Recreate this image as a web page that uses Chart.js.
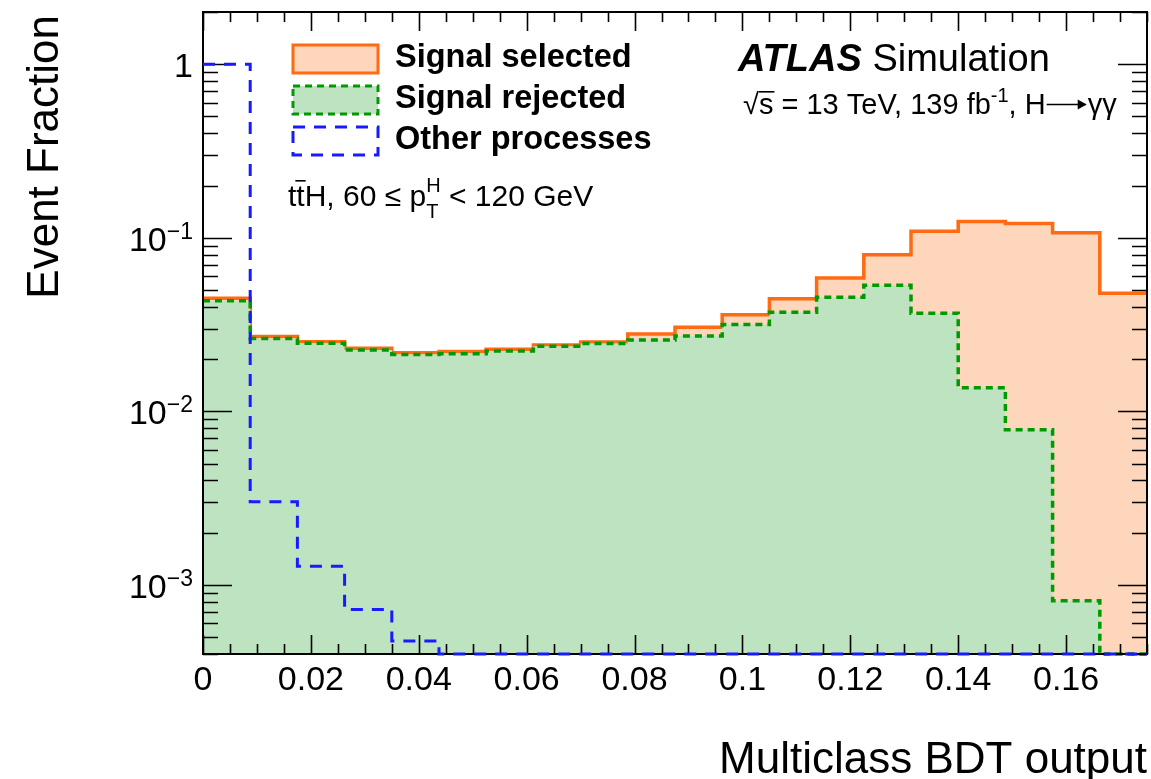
<!DOCTYPE html>
<html lang="en">
<head>
    <meta charset="UTF-8">
    <title>Multiclass BDT output</title>
    <style>
        html, body { margin: 0; padding: 0; background: #fff; }
        #wrap { width: 1151px; height: 779px; position: relative; }
    </style>
</head>
<body>

<div id="wrap">
    <canvas id="chartContainer"></canvas>
</div>

<script src="https://cdn.jsdelivr.net/npm/chart.js"></script>
<script>
// Hranice binu (Multiclass BDT output)
const binEdges = [0, 0.00875, 0.0175, 0.02625, 0.035, 0.04375, 0.0525, 0.06125, 0.07, 0.07875,
    0.0875, 0.09625, 0.105, 0.11375, 0.1225, 0.13125, 0.14, 0.14875, 0.1575, 0.16625, 0.175];

// Event fraction v kazdem binu
const signalSelected = [0.0448, 0.0270, 0.0252, 0.0231, 0.0218, 0.0221, 0.0228, 0.0241, 0.0251, 0.0279,
    0.0305, 0.0360, 0.0446, 0.0587, 0.0798, 0.109, 0.124, 0.121, 0.107, 0.0479];
const signalRejected = [0.0434, 0.0263, 0.0247, 0.0226, 0.0213, 0.0215, 0.0223, 0.0237, 0.0246, 0.0258,
    0.0272, 0.0317, 0.0372, 0.0454, 0.0533, 0.0368, 0.0137, 0.00783, 0.00081, 0];
const otherProcesses = [1.0, 0.00301, 0.00128, 0.000723, 0.000476, 0, 0, 0, 0, 0,
    0, 0, 0, 0, 0, 0, 0, 0, 0, 0];

const xTickValues = [0, 0.02, 0.04, 0.06, 0.08, 0.1, 0.12, 0.14, 0.16];
const xTickLabels = ['0', '0.02', '0.04', '0.06', '0.08', '0.1', '0.12', '0.14', '0.16'];
const yTickValues = [1, 0.1, 0.01, 0.001];
const yTickLabels = ['1', '10^\u22121', '10^\u22122', '10^\u22123'];

const X_MIN = 0, X_MAX = 0.175;
const Y_MIN = 4e-4, Y_MAX = 2;
const FONT = '"Liberation Sans", Arial, Helvetica, sans-serif';

// prazdne biny kreslime na spodni okraj jako ROOT
function toSteps(values) {
    const pts = values.map((v, i) => ({x: binEdges[i], y: v > 0 ? v : Y_MIN}));
    pts.push({x: binEdges[binEdges.length - 1], y: pts[pts.length - 1].y});
    return pts;
}

function font(size, weight, style) {
    return (style || '') + ' ' + (weight || 'normal') + ' ' + size + 'px ' + FONT;
}

// text s hornimi/dolnimi indexy: parts = [{t, size, weight, style, dy, bar, arrow}]
function drawRich(ctx, parts, x, y, align) {
    let total = 0;
    parts.forEach(p => {
        ctx.font = font(p.size, p.weight, p.style);
        p.mw = p.arrow ? p.arrow : ctx.measureText(p.t).width;
        p.w = p.adv !== undefined ? p.adv : p.mw;
        total += p.w;
    });
    let cx = align === 'right' ? x - total : x;
    ctx.textAlign = 'left';
    ctx.textBaseline = 'alphabetic';
    parts.forEach(p => {
        ctx.font = font(p.size, p.weight, p.style);
        if (p.arrow) {
            // dlouha sipka H -> yy
            const ay = y - p.size * 0.33;
            ctx.save();
            ctx.strokeStyle = ctx.fillStyle;
            ctx.lineWidth = 1.6;
            ctx.beginPath();
            ctx.moveTo(cx + 1, ay); ctx.lineTo(cx + p.arrow - 2, ay);
            ctx.stroke();
            ctx.beginPath();
            ctx.moveTo(cx + p.arrow - 1, ay);
            ctx.lineTo(cx + p.arrow - 10, ay - 5);
            ctx.lineTo(cx + p.arrow - 10, ay + 5);
            ctx.closePath();
            ctx.fill();
            ctx.restore();
        } else {
            ctx.fillText(p.t, cx, y + (p.dy || 0));
        }
        if (p.bar) {
            ctx.fillRect(cx + p.bar[0], y + p.bar[1], p.mw + p.bar[2], 1.6);
        }
        cx += p.w;
    });
}

const atlasDecor = {
    id: 'atlasDecor',
    afterDatasetDraw(chart, args) {
        if (args.index !== 1) return;
        const ctx = chart.ctx;
        const a = chart.chartArea;
        const xs = chart.scales.x, ys = chart.scales.y;
        ctx.save();
        ctx.strokeStyle = '#000';
        ctx.lineWidth = 1.6;
        ctx.beginPath();
        // x ticks, dole i nahore
        for (let v = 0; v <= X_MAX + 1e-9; v += 0.005) {
            const major = Math.abs(v / 0.02 - Math.round(v / 0.02)) < 1e-6;
            const len = major ? 19 : 10;
            const px = Math.round(xs.getPixelForValue(v)) + 0.5;
            ctx.moveTo(px, a.bottom); ctx.lineTo(px, a.bottom - len);
            ctx.moveTo(px, a.top); ctx.lineTo(px, a.top + len);
        }
        // y ticks, vlevo i vpravo
        for (let e = -4; e <= 0; e++) {
            for (let m = 1; m <= 9; m++) {
                const v = m * Math.pow(10, e);
                if (v < Y_MIN || v > Y_MAX) continue;
                const len = m === 1 ? 29 : 15;
                const py = Math.round(ys.getPixelForValue(v)) + 0.5;
                ctx.moveTo(a.left, py); ctx.lineTo(a.left + len, py);
                ctx.moveTo(a.right, py); ctx.lineTo(a.right - len, py);
            }
        }
        ctx.stroke();
        ctx.lineWidth = 2;
        ctx.strokeRect(a.left, a.top, a.right - a.left, a.bottom - a.top);
        ctx.restore();
    },
    afterDraw(chart) {
        const ctx = chart.ctx;
        const a = chart.chartArea;
        const xs = chart.scales.x, ys = chart.scales.y;
        ctx.save();
        ctx.fillStyle = '#000';

        // popisky osy x
        ctx.font = font(34);
        ctx.textAlign = 'center';
        ctx.textBaseline = 'alphabetic';
        xTickValues.forEach((v, i) => {
            ctx.fillText(xTickLabels[i], xs.getPixelForValue(v), 690);
        });

        // popisky osy y (10^n)
        yTickValues.forEach((v, i) => {
            const py = ys.getPixelForValue(v) + 13;
            const parts = yTickLabels[i].split('^');
            if (parts.length === 1) {
                drawRich(ctx, [{t: parts[0], size: 34}], 193, py, 'right');
            } else {
                drawRich(ctx, [{t: parts[0], size: 34}, {t: parts[1], size: 23, dy: -12}], 193, py, 'right');
            }
        });

        // nazvy os
        ctx.font = font(44);
        ctx.textAlign = 'right';
        ctx.fillText('Multiclass BDT output', a.right, 773);
        ctx.save();
        ctx.translate(58, a.top + 3);
        ctx.rotate(-Math.PI / 2);
        ctx.textAlign = 'right';
        ctx.fillText('Event Fraction', 0, 0);
        ctx.restore();

        // legenda
        const boxX = 293, boxW = 85, boxH = 28;
        const legend = [
            {label: 'Signal selected', fill: '#fdd6bb', stroke: '#ff6a13', dash: [], y: 45},
            {label: 'Signal rejected', fill: '#bee3c0', stroke: '#009a00', dash: [7, 5], y: 86},
            {label: 'Other processes', fill: null, stroke: '#1a1aff', dash: [12, 9], y: 127}
        ];
        legend.forEach(l => {
            if (l.fill) {
                ctx.fillStyle = l.fill;
                ctx.fillRect(boxX, l.y, boxW, boxH);
            }
            ctx.strokeStyle = l.stroke;
            ctx.lineWidth = 3;
            ctx.setLineDash(l.dash);
            ctx.strokeRect(boxX, l.y, boxW, boxH);
            ctx.setLineDash([]);
            ctx.fillStyle = '#000';
            ctx.font = font(32.5, 'bold');
            ctx.textAlign = 'left';
            ctx.fillText(l.label, 395, l.y + 22);
        });

        // ttH, 60 <= pT < 120 GeV
        ctx.fillStyle = '#000';
        drawRich(ctx, [
            {t: 't', size: 30},
            {t: 't', size: 30, bar: [-1, -26, 2]},
            {t: 'H, 60 \u2264 p', size: 30},
            {t: 'T', size: 20, dy: 12, adv: 0},
            {t: 'H', size: 20, dy: -14},
            {t: ' < 120 GeV', size: 30}
        ], 288, 206, 'left');

        // ATLAS Simulation
        drawRich(ctx, [
            {t: 'ATLAS', size: 38, weight: 'bold', style: 'italic'},
            {t: ' Simulation', size: 38}
        ], 738, 71, 'left');
        drawRich(ctx, [
            {t: '\u221A', size: 29},
            {t: 's', size: 29, bar: [0, -23, 1]},
            {t: ' = 13 TeV, 139 fb', size: 29},
            {t: '-1', size: 20, dy: -12},
            {t: ', H', size: 29},
            {t: '', size: 29, arrow: 42},
            {t: '\u03B3\u03B3', size: 29}
        ], 743, 114, 'left');

        ctx.restore();
    }
};

function drawChart() {
    const ctx = document.getElementById('chartContainer');
    window.myChart = new Chart(ctx, {
        type: 'line',
        data: {
            datasets: [{
                label: 'Other processes',
                data: toSteps(otherProcesses),
                fill: false,
                borderColor: '#1a1aff',
                borderWidth: 3,
                borderDash: [12, 9],
                pointRadius: 0,
                stepped: true,
                clip: false
            }, {
                label: 'Signal rejected',
                data: toSteps(signalRejected),
                fill: 'start',
                backgroundColor: '#bee3c0',
                borderColor: '#009a00',
                borderWidth: 3.5,
                borderDash: [7, 5],
                pointRadius: 0,
                stepped: true,
                clip: false
            }, {
                label: 'Signal selected',
                data: toSteps(signalSelected),
                fill: 'start',
                backgroundColor: '#fdd6bb',
                borderColor: '#ff6a13',
                borderWidth: 3.5,
                pointRadius: 0,
                stepped: true
            }]
        },
        options: {
            responsive: true,
            maintainAspectRatio: false,
            animation: false,
            layout: {
                padding: {left: 203, right: 4, top: 12, bottom: 125}
            },
            scales: {
                x: {
                    type: 'linear',
                    min: X_MIN,
                    max: X_MAX,
                    display: false
                },
                y: {
                    type: 'logarithmic',
                    min: Y_MIN,
                    max: Y_MAX,
                    display: false
                }
            },
            plugins: {
                legend: { display: false },
                tooltip: { enabled: false }
            }
        },
        plugins: [atlasDecor]
    });
}

drawChart();
</script>

</body>
</html>
